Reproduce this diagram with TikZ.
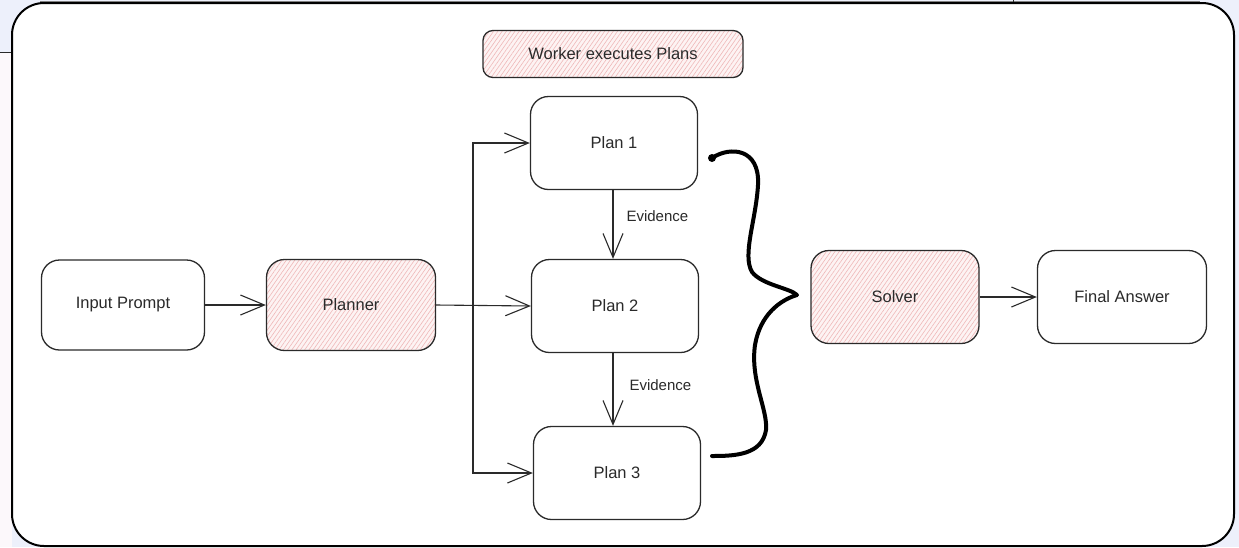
\documentclass[tikz,border=0pt]{standalone}
\usepackage{fontspec}
\setmainfont{Liberation Sans}
\usetikzlibrary{arrows.meta,patterns.meta}
\definecolor{bglav}{HTML}{EDF0FB}
\definecolor{bgleft}{HTML}{FCF8FB}
\definecolor{hatchfill}{HTML}{FDF3F3}
\definecolor{hatchline}{HTML}{EFB8B8}
\definecolor{ink}{HTML}{2A2A2A}
\tikzset{
  box/.style={draw=ink, line width=1.3pt, rounded corners=18pt, fill=white,
    minimum width=167pt, minimum height=93pt, font=\fontsize{16.5}{20}\selectfont, text=ink},
  hatched/.style={preaction={fill=hatchfill},
    pattern={Lines[angle=55,distance=3.5pt,line width=0.6pt]}, pattern color=hatchline},
  arr/.style={draw=ink, line width=1.1pt, -{Straight Barb[length=24pt,width=20pt,line width=1.1pt]}},
  lbl/.style={font=\fontsize{15}{18}\selectfont, text=ink},
}
\begin{document}
\begin{tikzpicture}[x=1pt,y=-1pt]
\useasboundingbox (0,0) rectangle (1239,547);
% background outside the frame
\fill[bglav] (0,0) rectangle (1239,547);
\fill[bgleft] (0,52) rectangle (12,547);
\draw[ink, line width=1pt] (0,52) -- (12,52);
\draw[gray, line width=1pt] (40,1) -- (1200,1);
\draw[ink, line width=1pt] (1013,0) -- (1013,3);
% frame
\draw[fill=white, draw=black, line width=2pt, rounded corners=32pt] (12,3) rectangle (1234,546);

% nodes
\node[box, hatched, minimum width=260pt, minimum height=47pt, rounded corners=10pt] (worker) at (613,54) {Worker executes Plans};
\node[box] (plan1) at (614,143) {Plan 1};
\node[box] (plan2) at (615,306) {Plan 2};
\node[box] (plan3) at (617,473) {Plan 3};
\node[box, minimum width=163pt, minimum height=90pt] (input) at (123,305) {Input Prompt};
\node[box, hatched, minimum width=169pt, minimum height=91pt] (planner) at (351,305) {Planner};
\node[box, hatched, minimum width=168pt, minimum height=93pt] (solver) at (895,297) {Solver};
\node[box, minimum width=169pt, minimum height=93pt] (final) at (1122,297) {Final Answer};

% connectors
\coordinate (bus) at (473,306);
\draw[arr] (input.east) -- (planner.west);
\draw[arr] (planner.east) -- (plan2.west);
\draw[arr] (bus) |- (plan1.west);
\draw[arr] (bus) |- (plan3.west);
\draw[arr] (plan1.south -| 613,0) -- (plan2.north -| 613,0);
\draw[arr] (plan2.south -| 613,0) -- (plan3.north -| 613,0);
\node[lbl, anchor=west] (ev1) at (623,216) {Evidence};
\node[lbl, anchor=west] (ev2) at (626,385) {Evidence};
\draw[arr] (solver.east) -- (final.west);

% brace
\coordinate (bt) at (712,158);
\coordinate (bb) at (712,456);
\draw[black, line width=4pt, line cap=round, line join=round]
  (bt) .. controls (730,146) and (760,148) .. (758,185)
  .. controls (756,220) and (742,255) .. (752,272)
  .. controls (762,285) and (790,288) .. (797,295)
  .. controls (780,300) and (760,315) .. (755,345)
  .. controls (750,380) and (768,410) .. (766,430)
  .. controls (762,455) and (735,456) .. (bb);
\fill[black] (bt) circle (4pt);
\end{tikzpicture}
\end{document}
